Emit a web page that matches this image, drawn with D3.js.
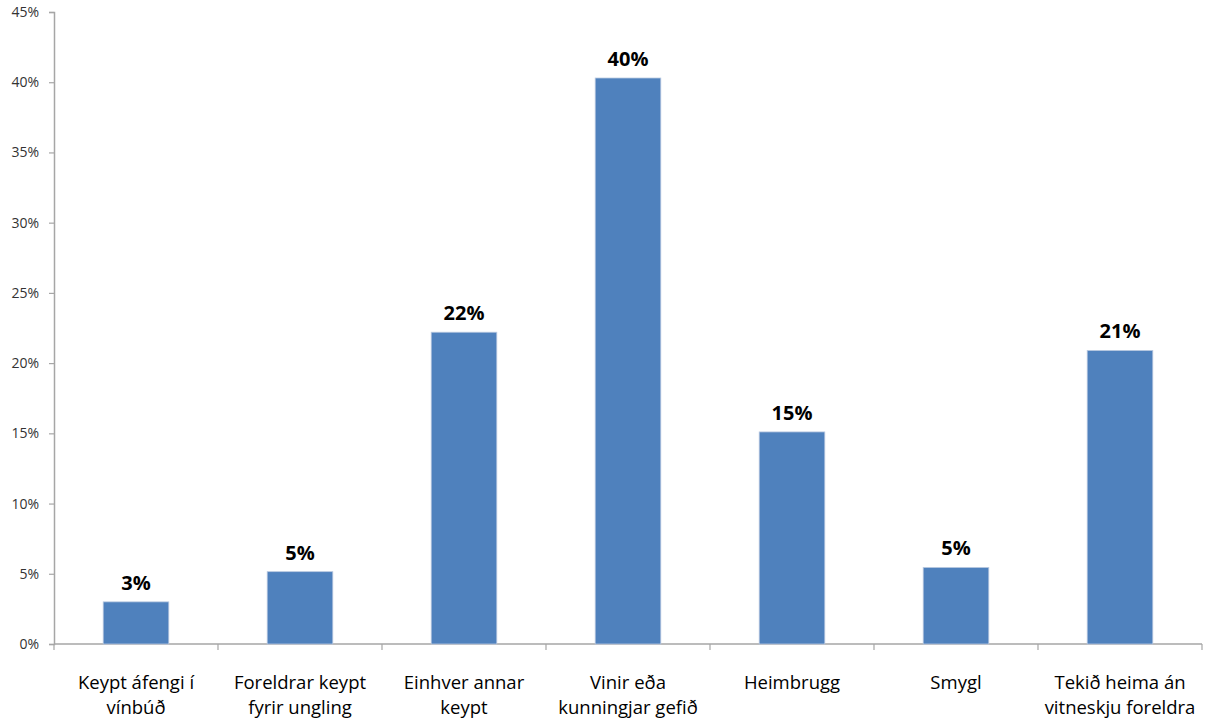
<!DOCTYPE html>
<html>
<head>
<meta charset="utf-8">
<script src="https://cdn.jsdelivr.net/npm/d3@7"></script>
<style>
  body { margin: 0; background: #fff; }
  svg { display: block; }
</style>
</head>
<body>
<div id="chart"></div>
<script>
const [svgW, svgH] = [1212, 719];
const margin = {top: 12, right: 10, bottom: 75, left: 54};

// data
const categories = [
    ["Keypt áfengi í", "vínbúð"],
    ["Foreldrar keypt", "fyrir ungling"],
    ["Einhver annar", "keypt"],
    ["Vinir eða", "kunningjar gefið"],
    ["Heimbrugg"],
    ["Smygl"],
    ["Tekið heima án", "vitneskju foreldra"]
];
const values = [3.0, 5.15, 22.2, 40.3, 15.1, 5.45, 20.9];
const valueLabels = ["3%", "5%", "22%", "40%", "15%", "5%", "21%"];
const yTicks = [0, 5, 10, 15, 20, 25, 30, 35, 40, 45];

const innerW = 1202 - margin.left;
const innerH = 644 - margin.top;

const svg = d3.select("#chart").append("svg")
    .attr("width", svgW).attr("height", svgH);
const g = svg.append("g").attr("transform", `translate(${margin.left},${margin.top})`);

const x = d3.scaleBand().domain(d3.range(categories.length)).range([0, innerW]).paddingInner(0.6).paddingOuter(0.3);
const y = d3.scaleLinear().domain([0, 45]).range([innerH, 0]);

// y axis
const yAxis = g.append("g").attr("class", "y-axis")
    .attr("font-size", 14).attr("font-family", "'Open Sans', sans-serif")
    .call(d3.axisLeft(y).tickValues(yTicks).tickSize(5).tickPadding(10).tickFormat(d => d + "%"));
yAxis.select(".domain").attr("stroke", "#a6a6a6").attr("stroke-width", 1.5);
yAxis.selectAll(".tick line").attr("stroke", "#a6a6a6").attr("stroke-width", 1.2);
yAxis.selectAll(".tick text").attr("fill", "#333")
    .style("font-family", "'Open Sans', sans-serif").style("font-size", "14px");

// x axis line with separators between categories
const step = innerW / categories.length;
const xAxis = g.append("g").attr("transform", `translate(0,${innerH})`);
xAxis.append("line").attr("x1", 0).attr("x2", innerW).attr("stroke", "#a6a6a6").attr("stroke-width", 1.5);
xAxis.selectAll(".sep").data(d3.range(categories.length + 1)).join("line")
    .attr("class", "sep")
    .attr("x1", d => d * step).attr("x2", d => d * step)
    .attr("y1", 0).attr("y2", 6)
    .attr("stroke", "#a6a6a6").attr("stroke-width", 1.2);

// bars
g.selectAll(".bar").data(values).join("rect")
    .attr("class", "bar")
    .attr("x", (d, i) => x(i))
    .attr("width", x.bandwidth())
    .attr("y", d => y(d))
    .attr("height", d => innerH - y(d))
    .attr("fill", "#4f81bd")
    .attr("stroke", "#b9c9e0").attr("stroke-width", 0.8);

// value labels
g.selectAll(".vlabel").data(values).join("text")
    .attr("class", "vlabel")
    .attr("x", (d, i) => x(i) + x.bandwidth() / 2)
    .attr("y", d => y(d) - 12)
    .attr("text-anchor", "middle")
    .style("font-family", "'Open Sans', sans-serif")
    .style("font-weight", "bold")
    .style("font-size", "20px")
    .attr("fill", "#000")
    .text((d, i) => valueLabels[i]);

// category labels
const catG = g.selectAll(".cat").data(categories).join("text")
    .attr("class", "cat")
    .attr("x", (d, i) => x(i) + x.bandwidth() / 2)
    .attr("y", innerH + 45)
    .attr("text-anchor", "middle")
    .style("font-family", "'Open Sans', sans-serif")
    .style("font-size", "18.5px")
    .attr("fill", "#000");
catG.selectAll("tspan").data(d => d).join("tspan")
    .attr("x", function () { return d3.select(this.parentNode).attr("x"); })
    .attr("dy", (d, i) => i === 0 ? 0 : 25)
    .text(d => d);
</script>
</body>
</html>
